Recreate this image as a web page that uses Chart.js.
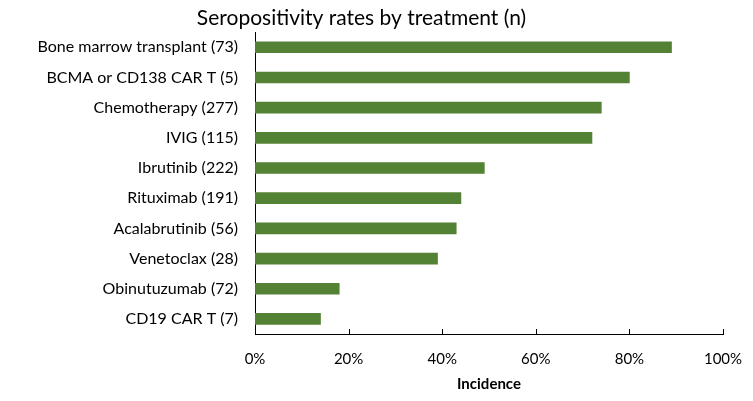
<!DOCTYPE html>
<html>
<head>
<meta charset="utf-8">
<script src="https://cdn.jsdelivr.net/npm/chart.js@4/dist/chart.umd.min.js"></script>
<style>
  html, body { margin: 0; padding: 0; background: #fff; }
  #wrap { width: 753px; height: 401px; }
</style>
</head>
<body>
<div id="wrap"><canvas id="myBarChart"></canvas></div>
<script>
var treatments = ['Bone marrow transplant (73)', 'BCMA or CD138 CAR T (5)', 'Chemotherapy (277)', 'IVIG (115)',
  'Ibrutinib (222)', 'Rituximab (191)', 'Acalabrutinib (56)', 'Venetoclax (28)', 'Obinutuzumab (72)', 'CD19 CAR T (7)'];
var incidence = [89, 80, 74, 72, 49, 44, 43, 39, 18, 14];
var xTicks = [0, 20, 40, 60, 80, 100];

var fontFam = "Lato, 'Liberation Sans', sans-serif";

// small tick marks pointing up from the x axis, like the original
var upTicks = {
  id: 'upTicks',
  afterDraw: function(chart) {
    var ctx = chart.ctx, xs = chart.scales.x, bottom = chart.chartArea.bottom;
    ctx.save();
    ctx.strokeStyle = '#000';
    ctx.lineWidth = 1;
    xTicks.forEach(function(v) {
      var px = Math.round(xs.getPixelForValue(v)) + 0.5;
      ctx.beginPath();
      ctx.moveTo(px, bottom);
      ctx.lineTo(px, bottom - 5);
      ctx.stroke();
    });
    ctx.restore();
  }
};

var data = {
  labels: treatments,
  datasets: [{
    label: 'Incidence',
    data: incidence,
    backgroundColor: '#548235',
    borderWidth: 0,
    barThickness: 11
  }]
};

var ctx = document.getElementById("myBarChart").getContext("2d");
var myBar = new Chart(ctx, {
  type: 'bar',
  data: data,
  plugins: [upTicks],
  options: {
    indexAxis: 'y',
    responsive: true,
    maintainAspectRatio: false,
    animation: false,
    layout: { padding: { left: 0, right: 30, top: 0, bottom: 0 } },
    plugins: {
      legend: { display: false },
      tooltip: { enabled: false },
      title: {
        display: true,
        text: 'Seropositivity rates by treatment (n)',
        color: '#000',
        font: { family: fontFam, size: 21, weight: 'normal' },
        padding: { top: 6, bottom: 1 }
      }
    },
    scales: {
      x: {
        min: 0,
        max: 100,
        afterBuildTicks: function(scale) {
          scale.ticks = xTicks.map(function(v) { return { value: v }; });
        },
        afterFit: function(scale) {
          scale.height = 67;
          scale.paddingLeft = 0;
          scale.paddingRight = 0;
        },
        border: { color: '#000', width: 1 },
        grid: { display: false, drawTicks: false },
        ticks: {
          color: '#000',
          padding: 16,
          font: { family: fontFam, size: 15 },
          callback: function(v) { return v + '%'; }
        },
        title: {
          display: true,
          text: 'Incidence',
          color: '#000',
          font: { family: fontFam, size: 15, weight: 'bold' },
          padding: { top: 3, bottom: 8 }
        }
      },
      y: {
        afterFit: function(scale) { scale.width = 255; },
        border: { color: '#000', width: 1 },
        grid: { display: false, drawTicks: false },
        ticks: {
          color: '#000',
          padding: 17,
          font: { family: fontFam, size: 16 }
        }
      }
    }
  }
});
</script>
</body>
</html>
